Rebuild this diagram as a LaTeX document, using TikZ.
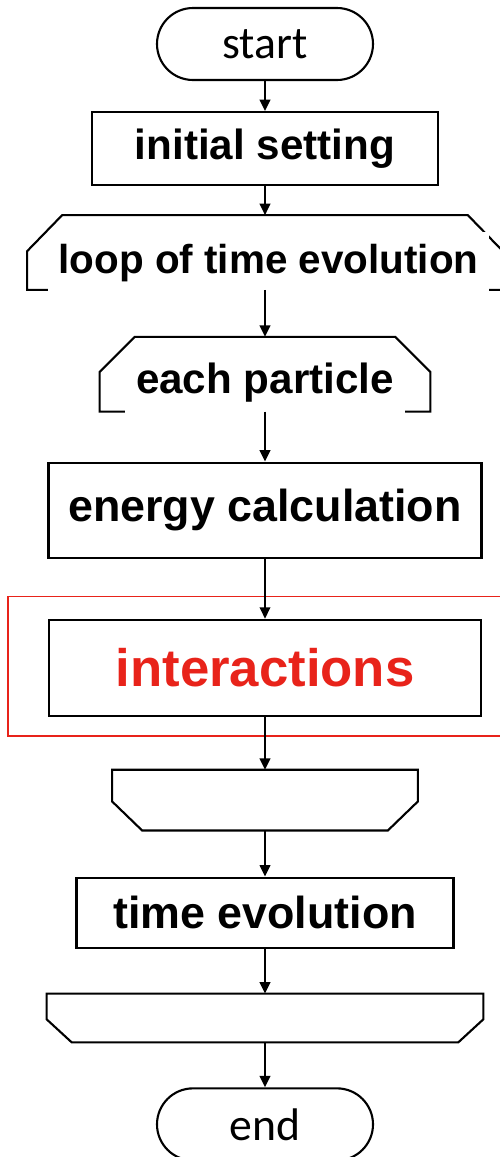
\documentclass[tikz,border=0pt]{standalone}
\usepackage{fontspec}
\setmainfont{Liberation Sans}
\newfontfamily\termfont{Carlito}
\usetikzlibrary{arrows.meta,positioning,calc}
\definecolor{alert}{HTML}{E8231A}

\begin{document}
\begin{tikzpicture}[
  every node/.style={font=\fontsize{24}{28}\selectfont\bfseries},
  big/.style={font=\fontsize{25.5}{30}\selectfont\bfseries},
  term/.style={rectangle, rounded corners=0.72cm, draw, line width=1.2pt,
               minimum width=4.32cm, minimum height=1.44cm,
               font=\termfont\fontsize{26}{30}\selectfont},
  box/.style={rectangle, draw, line width=1.2pt, align=center},
  frame/.style={rectangle, inner sep=0pt},
  cover/.style={rectangle, fill=white, inner sep=0pt},
  outline/.style={line width=1.2pt},
  arr/.style={-{Triangle[length=6.5pt, width=6pt]}, line width=1.2pt},
]
\useasboundingbox (0,0) rectangle (10,-23.14);

\node[term] (start) at (5.3,-0.88) {start};

\node[box, minimum width=6.92cm, minimum height=1.46cm, below=0.6cm of start] (init)
  {initial setting};

% loop start
\node[frame, minimum width=9.5cm, minimum height=1.48cm, below=0.58cm of init] (loop) {};
\draw[outline] (loop.south west) -- ($(loop.north west)+(0,-0.72)$)
  -- ($(loop.north west)+(0.7,0)$) -- ($(loop.north east)+(-0.7,0)$)
  -- ($(loop.north east)+(0,-0.72)$) -- (loop.south east) -- cycle;
\node[cover, minimum width=8.82cm, minimum height=1.28cm, font=\fontsize{23}{27}\selectfont\bfseries]
  (loopText) at ($(loop.center)+(0.07,-0.22)$) {loop of time evolution};

\node[frame, minimum width=6.6cm, minimum height=1.48cm, below=0.94cm of loop] (part) {};
\draw[outline] (part.south west) -- ($(part.north west)+(0,-0.7)$)
  -- ($(part.north west)+(0.7,0)$) -- ($(part.north east)+(-0.7,0)$)
  -- ($(part.north east)+(0,-0.7)$) -- (part.south east) -- cycle;
\node[cover, minimum width=5.6cm, minimum height=1.24cm] (partText)
  at ($(part.center)+(0,-0.16)$) {each particle};

\node[box, big, minimum width=8.66cm, minimum height=1.9cm, below=1.0cm of part] (energy)
  {energy calculation};

\node[box, minimum width=8.64cm, minimum height=1.92cm, below=1.2cm of energy,
      text=alert, font=\fontsize{30}{34}\selectfont\bfseries] (inter) {interactions};
\draw[alert, line width=0.8pt] ($(inter.north west)+(-0.8,0.44)$)
  rectangle ($(inter.south east)+(0.6,-0.38)$);

% loop ends
\node[frame, minimum width=6.1cm, minimum height=1.2cm, below=1.06cm of inter] (loopEnd) {};
\draw[outline] (loopEnd.north west) -- ($(loopEnd.south west)+(0,0.58)$)
  -- ($(loopEnd.south west)+(0.6,0)$) -- ($(loopEnd.south east)+(-0.6,0)$)
  -- ($(loopEnd.south east)+(0,0.58)$) -- (loopEnd.north east) -- cycle;

\node[box, big, minimum width=7.54cm, minimum height=1.4cm, below=0.92cm of loopEnd] (evol)
  {time evolution};

\node[frame, minimum width=8.72cm, minimum height=0.96cm, below=0.9cm of evol] (loopEndB) {};
\draw[outline] (loopEndB.north west) -- ($(loopEndB.south west)+(0,0.46)$)
  -- ($(loopEndB.south west)+(0.5,0)$) -- ($(loopEndB.south east)+(-0.5,0)$)
  -- ($(loopEndB.south east)+(0,0.46)$) -- (loopEndB.north east) -- cycle;

\node[term, below=0.9cm of loopEndB] (stop) {end};

\draw[arr] (start) -- (init);
\draw[arr] (init) -- (loop);
\draw[arr] (loop) -- (part);
\draw[arr] (part) -- (energy);
\draw[arr] (energy) -- (inter);
\draw[arr] (inter) -- (loopEnd);
\draw[arr] (loopEnd) -- (evol);
\draw[arr] (evol) -- (loopEndB);
\draw[arr] (loopEndB) -- (stop);

\end{tikzpicture}
\end{document}
